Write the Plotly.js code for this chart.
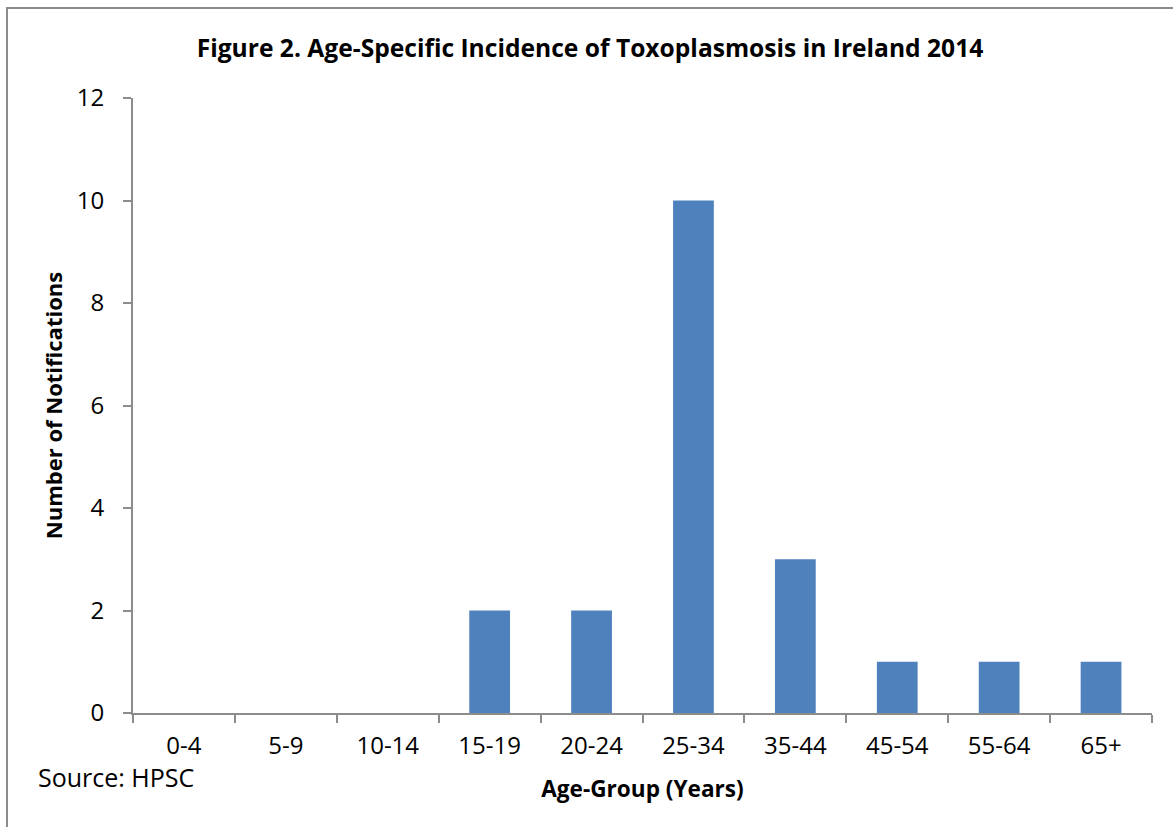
<!DOCTYPE html>
<html>
<head>
<meta charset="utf-8">
<script src="https://cdn.plot.ly/plotly-3.0.1.min.js"></script>
<style>
  html, body { margin: 0; padding: 0; background: #ffffff; }
  #frame { position: absolute; left: 6px; top: 7px; width: 1400px; height: 1000px; border: 2px solid #8c8c8c; box-sizing: border-box; }
  #chart { position: absolute; left: 0; top: 0; width: 1173px; height: 827px; }
</style>
</head>
<body>
<div id="frame"></div>
<div id="chart"></div>
<script>
const categories = ["0-4", "5-9", "10-14", "15-19", "20-24", "25-34", "35-44", "45-54", "55-64", "65+"];
const notifications = [0, 0, 0, 2, 2, 10, 3, 1, 1, 1];
const yTicks = [0, 2, 4, 6, 8, 10, 12];

const FONT = "'Open Sans', Lato, 'Liberation Sans', sans-serif";

const trace = {
  type: "bar",
  x: categories,
  y: notifications,
  marker: { color: "#4F81BD", line: { width: 0 } },
  hoverinfo: "x+y"
};

const layout = {
  width: 1173,
  height: 827,
  margin: { l: 133, r: 21, t: 98, b: 114 },
  paper_bgcolor: "rgba(0,0,0,0)",
  plot_bgcolor: "rgba(0,0,0,0)",
  showlegend: false,
  bargap: 0.6,
  font: { family: FONT, color: "#000000", size: 24 },
  title: {
    text: "<b>Figure 2. Age-Specific Incidence of Toxoplasmosis in Ireland 2014</b>",
    font: { family: FONT, size: 24.6, color: "#000000" },
    x: 0.503, xanchor: "center",
    y: 0.941, yanchor: "middle"
  },
  xaxis: {
    type: "category",
    tickson: "boundaries",
    ticks: "outside",
    ticklen: 8,
    tickwidth: 2,
    tickcolor: "#8c8c8c",
    ticklabelstandoff: 10,
    showline: true,
    linecolor: "#8c8c8c",
    linewidth: 2,
    showgrid: false,
    zeroline: false,
    tickfont: { family: FONT, size: 24, color: "#000000" },
    title: {
      text: "<b>Age-Group (Years)</b>",
      font: { family: FONT, size: 22.6, color: "#000000" },
      standoff: 21
    },
    fixedrange: true
  },
  yaxis: {
    range: [0, 12],
    tickvals: yTicks,
    ticktext: yTicks.map(String),
    ticks: "outside",
    ticklen: 8,
    tickwidth: 2,
    tickcolor: "#8c8c8c",
    ticklabelstandoff: 14,
    showline: true,
    linecolor: "#8c8c8c",
    linewidth: 2,
    showgrid: false,
    zeroline: false,
    tickfont: { family: FONT, size: 24, color: "#000000" },
    title: {
      text: "<b>Number of Notifications</b>",
      font: { family: FONT, size: 22, color: "#000000" },
      standoff: 8
    },
    fixedrange: true
  },
  annotations: [
    {
      text: "Source: HPSC",
      xref: "paper", yref: "paper",
      x: (36 - 133) / 1019, y: -(777 - 713) / 615,
      xanchor: "left", yanchor: "middle",
      showarrow: false,
      font: { family: FONT, size: 25, color: "#000000" }
    }
  ]
};

Plotly.newPlot("chart", [trace], layout, { displayModeBar: false, staticPlot: true });
</script>
</body>
</html>
